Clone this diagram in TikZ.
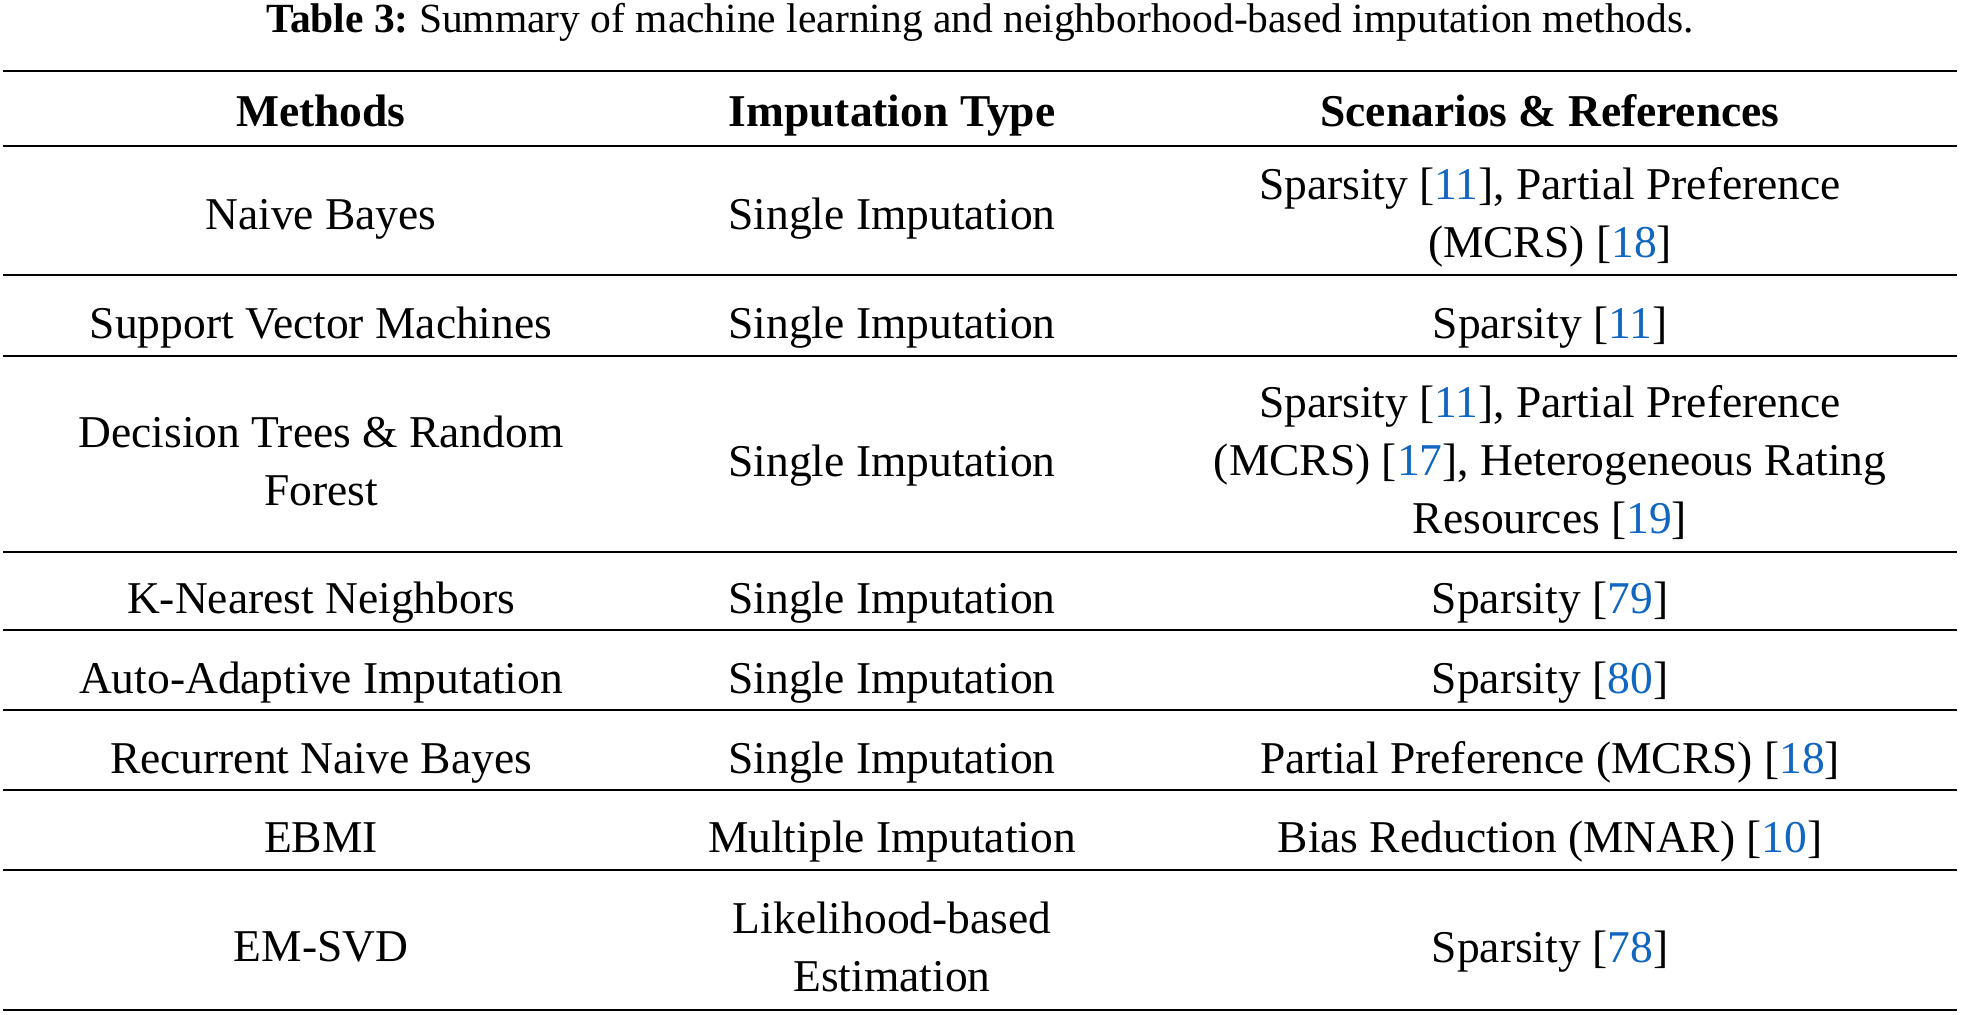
\documentclass[tikz,border=0pt]{standalone}
\usepackage{fontspec}
\setmainfont{Liberation Serif}
\usepackage{xcolor}
\usepackage{tikz}
\definecolor{citeblue}{RGB}{16,102,192}
\newcommand{\refnum}[1]{[\textcolor{citeblue}{#1}]}
\newcommand{\cellfont}{\fontsize{45.5}{58}\selectfont}

\begin{document}
\begin{tikzpicture}[
   x=1pt,y=-1pt,
   cell/.style={anchor=base,inner sep=0pt,align=center,font=\cellfont},
   head/.style={cell,font=\cellfont\bfseries},
   caption/.style={anchor=base,inner sep=0pt,font=\fontsize{41.5}{50}\selectfont},
   toprule/.style={line width=2.6},
   midrule/.style={line width=2.2}]
\useasboundingbox (0,0) rectangle (1961,1014);
\node[caption] (cap) at (980,33) {\textbf{Table 3:}~Summary of machine learning and neighborhood-based imputation methods.};
\draw[toprule] (3,71) -- (1957,71);
\node[head] (hM) at (321,127) {Methods};
\node[head] (hT) at (892,127) {Imputation Type};
\node[head] (hS) at (1550,127) {Scenarios \& References};
\draw[midrule] (3,146) -- (1957,146);
% rows (multi-line cells sit on their last line)
\node[cell] (m1) at (321,229) {Naive Bayes};
\node[cell] (t1) at (892,229) {Single Imputation};
\node[cell] (s1) at (1550,257) {Sparsity \refnum{11}, Partial Preference\\(MCRS) \refnum{18}};
\draw[midrule] (3,275) -- (1957,275);
\node[cell] (m2) at (321,338) {Support Vector Machines};
\node[cell] (t2) at (892,338) {Single Imputation};
\node[cell] (s2) at (1550,338) {Sparsity \refnum{11}};
\draw[midrule] (3,356) -- (1957,356);
\node[cell] (m3) at (321,505) {Decision Trees \& Random\\Forest};
\node[cell] (t3) at (892,476) {Single Imputation};
\node[cell] (s3) at (1550,533) {Sparsity \refnum{11}, Partial Preference\\(MCRS) \refnum{17}, Heterogeneous Rating\\Resources \refnum{19}};
\draw[midrule] (3,552) -- (1957,552);
\node[cell] (m4) at (321,613) {K-Nearest Neighbors};
\node[cell] (t4) at (892,613) {Single Imputation};
\node[cell] (s4) at (1550,613) {Sparsity \refnum{79}};
\draw[midrule] (3,630) -- (1957,630);
\node[cell] (m5) at (321,693) {Auto-Adaptive Imputation};
\node[cell] (t5) at (892,693) {Single Imputation};
\node[cell] (s5) at (1550,693) {Sparsity \refnum{80}};
\draw[midrule] (3,710) -- (1957,710);
\node[cell] (m6) at (321,773) {Recurrent Naive Bayes};
\node[cell] (t6) at (892,773) {Single Imputation};
\node[cell] (s6) at (1550,773) {Partial Preference (MCRS) \refnum{18}};
\draw[midrule] (3,790) -- (1957,790);
\node[cell] (m7) at (321,852) {EBMI};
\node[cell] (t7) at (892,852) {Multiple Imputation};
\node[cell] (s7) at (1550,852) {Bias Reduction (MNAR) \refnum{10}};
\draw[midrule] (3,870) -- (1957,870);
\node[cell] (m8) at (321,961) {EM-SVD};
\node[cell] (t8) at (892,991) {Likelihood-based\\Estimation};
\node[cell] (s8) at (1550,962) {Sparsity \refnum{78}};
\draw[toprule] (3,1010) -- (1957,1010);
\end{tikzpicture}
\end{document}
